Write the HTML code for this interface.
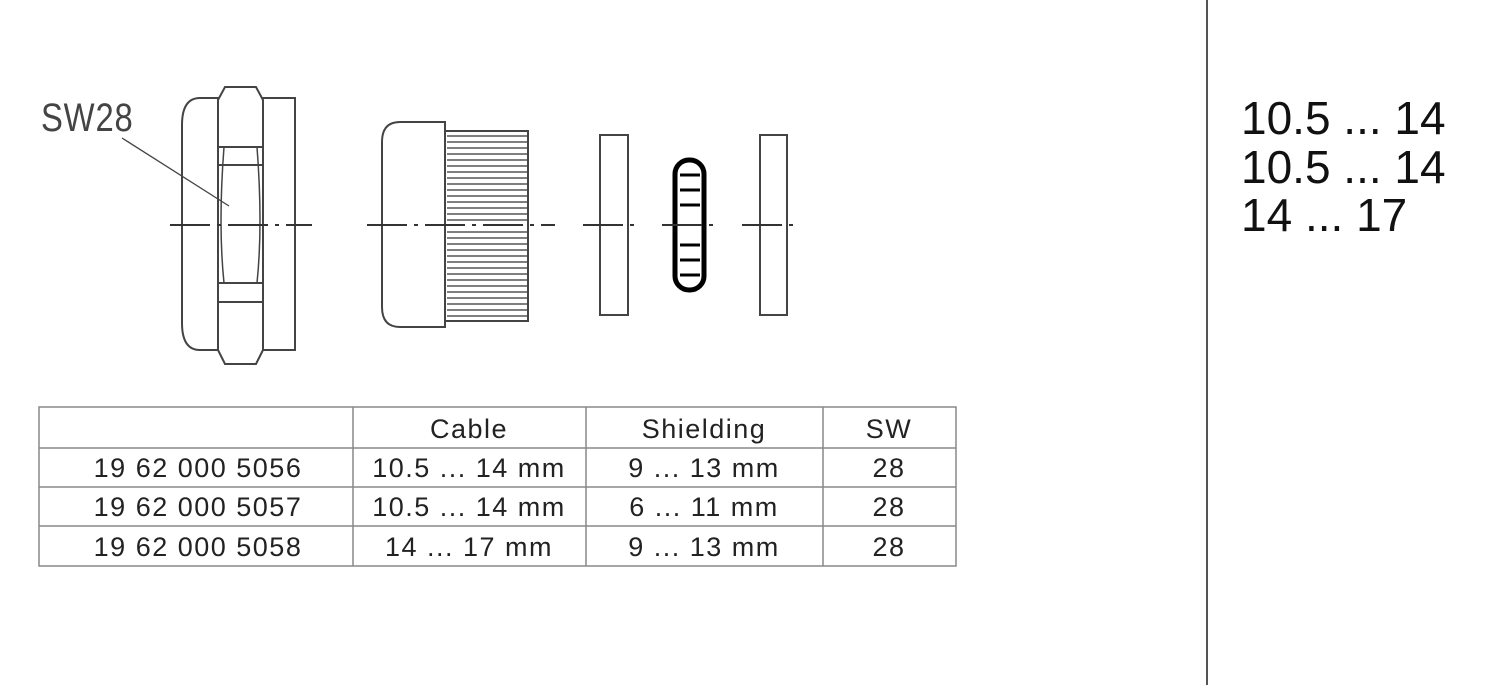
<!DOCTYPE html>
<html><head><style>
body{margin:0;background:#fff;width:1500px;height:685px;overflow:hidden;font-family:"Liberation Sans",sans-serif}
</style></head><body>
<svg width="1500" height="685" xmlns="http://www.w3.org/2000/svg" style="position:absolute;left:0;top:0">
<g fill="none" stroke="#444" stroke-width="2">
<path d="M218 98 H200 Q182 98 182 125 V323 Q182 350 200 350 H218"/>
<rect x="218" y="98" width="77" height="252"/>
<path d="M225 87 H256 L263 100 V350 L256 364 H225 L218 350 V100 Z" fill="#fff"/>
<path d="M218 147 H263 M218 165 H263 M218 283 H263 M218 302 H263"/>
<path d="M224 147 Q218 225 224 283 M257 147 Q263 225 257 283" stroke-width="1.5"/>
<line x1="122" y1="138" x2="229" y2="206" stroke-width="1.3"/>
<path d="M445 122 H400 Q382 122 382 142 V307 Q382 327 400 327 H445 Z"/>
<rect x="445" y="131" width="83" height="190"/>
<rect x="600" y="135" width="28" height="180"/>
<rect x="760" y="135" width="27" height="180"/>
<rect x="675" y="160" width="29" height="130" rx="14" stroke="#000" stroke-width="5"/>
</g>
<g stroke="#333" stroke-width="1.2">
<path d="M447 136 H527 M447 142 H527 M447 148 H527 M447 154 H527 M447 160 H527 M447 166 H527 M447 172 H527 M447 178 H527 M447 184 H527 M447 190 H527 M447 196 H527 M447 202 H527 M447 208 H527 M447 214 H527 M447 220 H527 M447 232 H527 M447 238 H527 M447 244 H527 M447 250 H527 M447 256 H527 M447 262 H527 M447 268 H527 M447 274 H527 M447 280 H527 M447 286 H527 M447 292 H527 M447 298 H527 M447 304 H527 M447 310 H527 M447 316 H527"/>
<path d="M680 175 H700 M680 190 H700 M680 205 H700 M680 245 H700 M680 260 H700 M680 275 H700" stroke="#000" stroke-width="3"/>
</g>
<g stroke="#333" stroke-width="2" stroke-dasharray="40 7 4 7">
<line x1="170" y1="225" x2="312" y2="225"/>
<line x1="367" y1="225" x2="555" y2="225"/>
<line x1="583" y1="225" x2="641" y2="225"/>
<line x1="662" y1="225" x2="716" y2="225"/>
<line x1="742" y1="225" x2="800" y2="225"/>
</g>
<text x="41" y="131" font-size="40" fill="#444" transform="scale(0.82,1)" transform-origin="41 131" letter-spacing="1">SW28</text>
<line x1="1207" y1="0" x2="1207" y2="685" stroke="#555" stroke-width="2"/>
<g font-size="46" fill="#111">
<text x="1241" y="134">10.5 ... 14</text>
<text x="1241" y="183">10.5 ... 14</text>
<text x="1241" y="231">14 ... 17</text>
</g>
<g stroke="#888" stroke-width="1.5" fill="none">
<rect x="39" y="407" width="917" height="159"/>
<path d="M39 448 H956 M39 487 H956 M39 526 H956 M353 407 V566 M586 407 V566 M823 407 V566"/>
</g>
<g font-size="27" fill="#222" text-anchor="middle" letter-spacing="1.5">
<text x="469" y="438">Cable</text><text x="704" y="438">Shielding</text><text x="889" y="438">SW</text>
<text x="198" y="477">19 62 000 5056</text><text x="469" y="477">10.5 ... 14 mm</text><text x="704" y="477">9 ... 13 mm</text><text x="889" y="477">28</text>
<text x="198" y="516">19 62 000 5057</text><text x="469" y="516">10.5 ... 14 mm</text><text x="704" y="516">6 ... 11 mm</text><text x="889" y="516">28</text>
<text x="198" y="556">19 62 000 5058</text><text x="469" y="556">14 ... 17 mm</text><text x="704" y="556">9 ... 13 mm</text><text x="889" y="556">28</text>
</g>
</svg>
</body></html>
